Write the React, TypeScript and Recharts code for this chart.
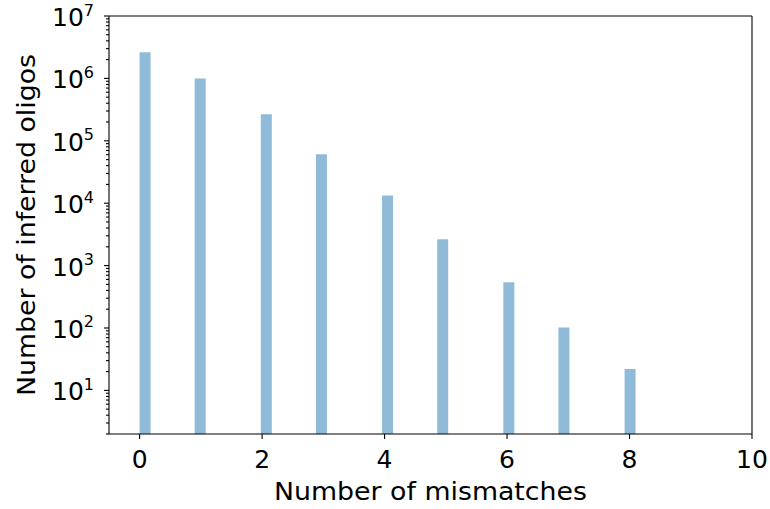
import React from 'react';
import { BarChart, Bar, XAxis, YAxis, ReferenceLine } from 'recharts';

// histogram of mismatches per inferred oligo (log y)
const mismatches = [0, 1, 2, 3, 4, 5, 6, 7, 8, 9];
const oligoCounts = [2620000, 1000000, 266000, 60800, 13300, 2640, 541, 102, 22, 2];
const xTicks = [0, 2, 4, 6, 8, 10];
const yMajorTicks = [1e1, 1e2, 1e3, 1e4, 1e5, 1e6, 1e7];

// 50 bins spread over 0..9, as matplotlib's hist did
const binCount = 50;
const binWidth = 9 / binCount;
const yTicks: number[] = [];
for (let k = 0; k < 7; k++) {
  for (let m = 1; m < 10; m++) {
    const v = m * Math.pow(10, k);
    if (v >= 2 && v <= 1e7) yTicks.push(v);
  }
}
yTicks.push(1e7);

const data = mismatches.map((m, i) => {
  const bin = Math.min(Math.floor(m / binWidth + 1e-9), binCount - 1);
  return { x: bin * binWidth + binWidth / 2, count: oligoCounts[i] };
});

const font = '"DejaVu Sans", sans-serif';
const ink = '#000';

const YTick = (props: any) => {
  const { x, y, payload } = props;
  const v = payload.value;
  const exp = Math.log10(v);
  const major = Math.abs(exp - Math.round(exp)) < 1e-9;
  return (
    <g>
      <line x1={x - (major ? 5 : 3)} x2={x} y1={y} y2={y} stroke={ink} strokeWidth={1.1} />
      {major && (
        <text x={x - 15} y={y + 10} textAnchor="end" fontSize={25} fontFamily={font} fill={ink}>
          10
          <tspan fontSize={16} dy={-10.5}>{Math.round(exp)}</tspan>
        </text>
      )}
    </g>
  );
};

const XTick = (props: any) => {
  const { x, y, payload } = props;
  return (
    <g>
      <line x1={x} x2={x} y1={y} y2={y + 5} stroke={ink} strokeWidth={1.1} />
      <text x={x} y={y + 34} textAnchor="middle" fontSize={25} fontFamily={font} fill={ink}>
        {payload.value}
      </text>
    </g>
  );
};

const XLabel = (props: any) => {
  const vb = props.viewBox;
  return (
    <text
      x={vb.x + vb.width / 2}
      y={vb.y + 66}
      textAnchor="middle"
      fontSize={25}
      fontFamily={font}
      fill={ink}
      textLength={313}
      lengthAdjust="spacingAndGlyphs"
    >
      Number of mismatches
    </text>
  );
};

const YLabel = (props: any) => {
  const vb = props.viewBox;
  const cy = vb.y + vb.height / 2;
  return (
    <text
      x={35}
      y={cy}
      transform={`rotate(-90, 35, ${cy})`}
      textAnchor="middle"
      fontSize={25}
      fontFamily={font}
      fill={ink}
      textLength={342}
      lengthAdjust="spacingAndGlyphs"
    >
      Number of inferred oligos
    </text>
  );
};

export default function App() {
  return (
    <div style={{ position: 'absolute', left: 0, top: 0, background: '#fff' }}>
      <BarChart width={770} height={509} data={data} margin={{ top: 16, right: 18, bottom: 0, left: 0 }}>
        <XAxis
          dataKey="x"
          type="number"
          domain={[-0.5, 10]}
          allowDataOverflow
          ticks={xTicks}
          interval={0}
          height={75}
          tickSize={0}
          tickMargin={0}
          tickLine={false}
          tick={<XTick />}
          axisLine={{ stroke: ink, strokeWidth: 1.1 }}
          label={<XLabel />}
        />
        <YAxis
          scale="log"
          type="number"
          domain={[2, 1e7]}
          allowDataOverflow
          ticks={yTicks}
          interval={0}
          width={109}
          tickSize={0}
          tickMargin={0}
          tickLine={false}
          tick={<YTick />}
          axisLine={{ stroke: ink, strokeWidth: 1.1 }}
          label={<YLabel />}
        />
        <ReferenceLine y={1e7} stroke={ink} strokeWidth={1.1} />
        <ReferenceLine x={10} stroke={ink} strokeWidth={1.1} />
        <Bar dataKey="count" fill="#1f77b4" fillOpacity={0.5} barSize={11} isAnimationActive={false} />
      </BarChart>
    </div>
  );
}
